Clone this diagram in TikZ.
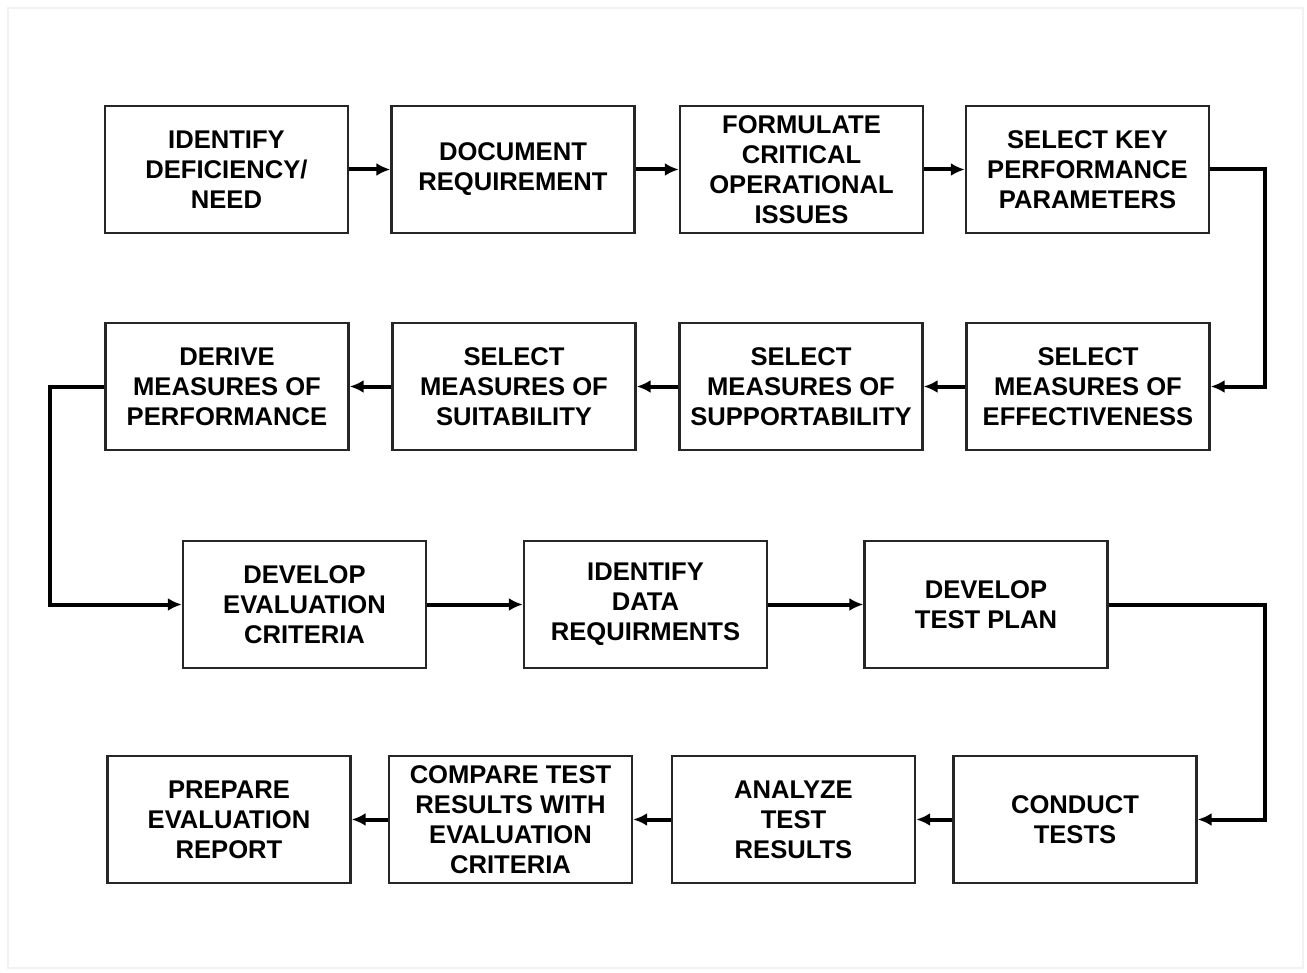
\documentclass[tikz,border=0pt]{standalone}
\usepackage{fontspec}
\setmainfont{Liberation Sans}
\usetikzlibrary{arrows.meta}

\begin{document}
\begin{tikzpicture}[x=0.5pt, y=-0.5pt,
	stepbox/.style={draw=black!85, line width=1.2pt, fill=white, minimum width=121.5pt, minimum height=63.5pt, inner sep=0pt, align=center, font=\fontsize{12.8}{15}\selectfont\bfseries},
	flow/.style={line width=2pt, -{Latex[length=7pt, width=6.5pt]}}]
			%%%%% START %%%%%
			
			\useasboundingbox (0, 0) rectangle (1307, 973);
			\draw[line width=0.8pt, color=black!5] (8, 8) rectangle (1303, 968);
			
			% row 1
			\node[stepbox] (need) at (226.5, 169.5) {IDENTIFY\\DEFICIENCY/\\NEED};
			\node[stepbox] (req) at (513, 169.5) {DOCUMENT\\REQUIREMENT};
			\node[stepbox] (coi) at (801.5, 169.5) {FORMULATE\\CRITICAL\\OPERATIONAL\\ISSUES};
			\node[stepbox] (kpp) at (1087.5, 169.5) {SELECT KEY\\PERFORMANCE\\PARAMETERS};
			
			% row 2
			\node[stepbox] (moe) at (1088, 386.5) {SELECT\\MEASURES OF\\EFFECTIVENESS};
			\node[stepbox] (mosp) at (801, 386.5) {SELECT\\MEASURES OF\\SUPPORTABILITY};
			\node[stepbox] (most) at (514, 386.5) {SELECT\\MEASURES OF\\SUITABILITY};
			\node[stepbox] (mop) at (227, 386.5) {DERIVE\\MEASURES OF\\PERFORMANCE};
			
			% row 3
			\node[stepbox] (evc) at (304.5, 604.5) {DEVELOP\\EVALUATION\\CRITERIA};
			\node[stepbox] (data) at (645.5, 604.5) {IDENTIFY\\DATA\\REQUIRMENTS};
			\node[stepbox] (plan) at (986, 604.5) {DEVELOP\\TEST PLAN};
			
			% row 4
			\node[stepbox] (cond) at (1075, 819.5) {CONDUCT\\TESTS};
			\node[stepbox] (anl) at (793.5, 819.5) {ANALYZE\\TEST\\RESULTS};
			\node[stepbox] (cmp) at (510.5, 819.5) {COMPARE TEST\\RESULTS WITH\\EVALUATION\\CRITERIA};
			\node[stepbox] (rep) at (229, 819.5) {PREPARE\\EVALUATION\\REPORT};
			
			\coordinate (turnA) at (1265, 169.5);
			\coordinate (turnB) at (50, 386.5);
			\coordinate (turnC) at (1265, 604.5);
			
			\draw[flow] (need) -- (req);
			\draw[flow] (req) -- (coi);
			\draw[flow] (coi) -- (kpp);
			\draw[flow] (kpp.east) -- (turnA) |- (moe.east);
			
			\draw[flow] (moe) -- (mosp);
			\draw[flow] (mosp) -- (most);
			\draw[flow] (most) -- (mop);
			\draw[flow] (mop.west) -- (turnB) |- (evc.west);
			
			\draw[flow] (evc) -- (data);
			\draw[flow] (data) -- (plan);
			\draw[flow] (plan.east) -- (turnC) |- (cond.east);
			
			\draw[flow] (cond) -- (anl);
			\draw[flow] (anl) -- (cmp);
			\draw[flow] (cmp) -- (rep);
			
			%%%%% END %%%%%
		\end{tikzpicture}
\end{document}
